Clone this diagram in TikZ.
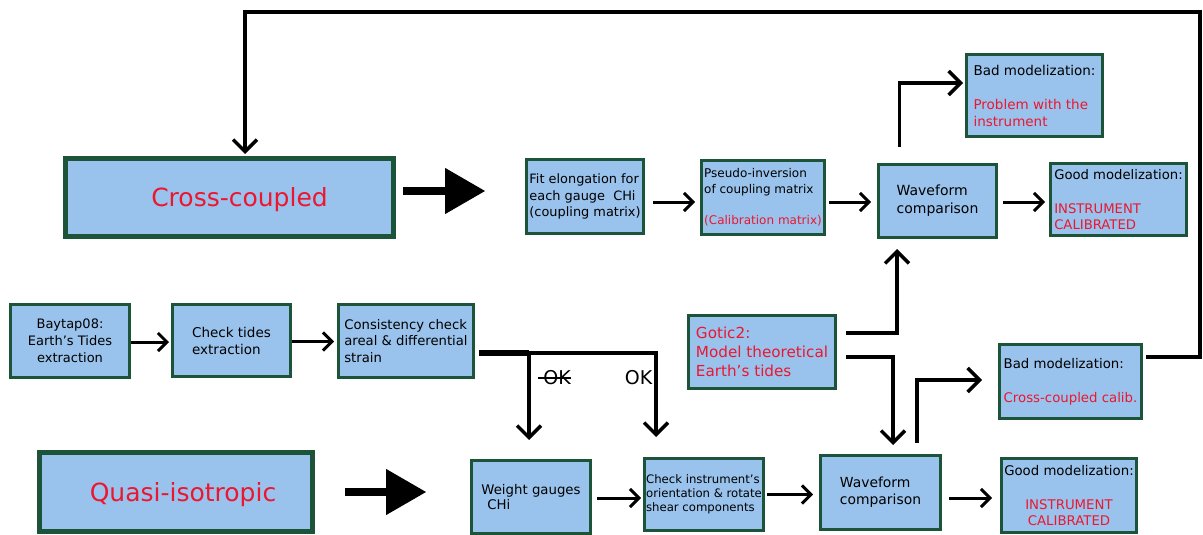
\documentclass[tikz,border=0pt]{standalone}
\usepackage{fontspec}
\setmainfont{DejaVu Sans}
\usetikzlibrary{arrows.meta}

\definecolor{boxfill}{RGB}{153,195,236}
\definecolor{boxline}{RGB}{28,84,58}
\definecolor{txtred}{RGB}{236,22,48}

\tikzset{
  box/.style={draw=boxline, fill=boxfill, line width=3pt, inner sep=0pt,
    align=left, font=\fontsize{13}{17}\selectfont},
  bigbox/.style={box, line width=5pt, text=txtred, text depth=0pt, font=\fontsize{25}{30}\selectfont},
  arr/.style={-{Straight Barb[length=9pt,width=18pt]}, line width=3pt},
  bigarr/.style={-{Straight Barb[length=12pt,width=24pt]}, line width=3.5pt},
  fatarr/.style={-{Triangle[length=40pt,width=46pt,line width=1pt]}, line width=8pt},
  oklbl/.style={inner sep=0pt, font=\fontsize{19}{22}\selectfont},
}

\begin{document}
\begin{tikzpicture}[x=1pt,y=-1pt]

    % Cadre (pixels du modele)
    \useasboundingbox (0,0) rectangle (1203,535);
    \clip (0,0) rectangle (1203,535);

    % ---- Ligne du haut : cross-coupled ----
    \node[bigbox, minimum width=328pt, minimum height=78pt] (cross) at (229.5,197.5)
      {\hspace*{20pt}Cross-coupled};
    \node[box, minimum width=117pt, minimum height=74pt, font=\fontsize{12.9}{16.5}\selectfont] (fit) at (585,196.5)
      {Fit elongation for\\each gauge\ \ CHi\\(coupling matrix)};
    \node[box, minimum width=123pt, minimum height=74pt, font=\fontsize{12}{16}\selectfont] (pinv) at (763,197.5)
      {Pseudo-inversion\\of coupling matrix\\[15pt]\textcolor{txtred}{(Calibration matrix)}};
    \node[box, minimum width=118pt, minimum height=73pt, font=\fontsize{14}{18}\selectfont] (wavetop) at (937.5,201)
      {Waveform\\comparison};
    \node[box, minimum width=136pt, minimum height=72pt, font=\fontsize{13.2}{16.5}\selectfont] (goodtop) at (1118.5,199.5)
      {Good modelization:\\[17.5pt]\textcolor{txtred}{INSTRUMENT}\\\textcolor{txtred}{CALIBRATED}};
    \node[box, minimum width=136pt, minimum height=82pt, font=\fontsize{13.5}{17}\selectfont] (badtop) at (1034.5,95.5)
      {Bad modelization:\\[17pt]\textcolor{txtred}{Problem with the}\\\textcolor{txtred}{instrument}};

    % ---- Ligne du milieu : extraction des marees ----
    \node[box, minimum width=119pt, minimum height=73pt, align=center] (baytap) at (70,341)
      {Baytap08:\\Earth's Tides\\extraction};
    \node[box, minimum width=118pt, minimum height=72pt, font=\fontsize{13.5}{17}\selectfont] (tides) at (231.5,340.5)
      {Check tides\\extraction};
    \node[box, minimum width=135pt, minimum height=73pt, font=\fontsize{13.2}{16.5}\selectfont] (consist) at (406,341)
      {Consistency check\\areal \& differential\\strain};
    \node[box, minimum width=147pt, minimum height=73pt, text=txtred, font=\fontsize{15.2}{19}\selectfont] (gotic) at (762,352)
      {Gotic2:\\Model theoretical\\Earth's tides};
    \node[box, minimum width=142pt, minimum height=74pt, font=\fontsize{13.3}{17}\selectfont] (badlow) at (1070.5,381.5)
      {Bad modelization:\\[17pt]\textcolor{txtred}{Cross-coupled calib.}};

    % ---- Ligne du bas : quasi-isotropic ----
    \node[bigbox, minimum width=273pt, minimum height=79pt] (quasi) at (176,492)
      {\hspace*{14pt}Quasi-isotropic};
    \node[box, minimum width=119pt, minimum height=73pt, font=\fontsize{13.3}{15}\selectfont] (weight) at (531,497)
      {Weight gauges\\\hspace*{6pt}CHi};
    \node[box, minimum width=119pt, minimum height=72pt, font=\fontsize{11.7}{14}\selectfont] (instr) at (704,494.5)
      {Check instrument's\\orientation \& rotate\\shear components};
    \node[box, minimum width=120pt, minimum height=74pt, font=\fontsize{13.9}{17}\selectfont] (wavelow) at (880.5,492.5)
      {Waveform\\comparison};
    \node[box, minimum width=135pt, minimum height=74pt, align=center, font=\fontsize{13.3}{16}\selectfont] (goodlow) at (1069,495.5)
      {Good modelization:\\[18pt]\textcolor{txtred}{INSTRUMENT}\\\textcolor{txtred}{CALIBRATED}};

    % ---- Fleches epaisses ----
    \draw[fatarr] ([xshift=7pt,yshift=6.5pt]cross.east) -- ([xshift=-40pt,yshift=6.5pt]cross.east -| fit.west);
    \draw[fatarr] ([xshift=30pt]quasi.east) -- ([xshift=-44pt]quasi.east -| weight.west);

    % ---- Fleches simples ----
    \draw[arr] ([xshift=8pt,yshift=-5.5pt]fit.east) -- ([xshift=-5pt,yshift=-5.5pt]fit.east -| pinv.west);
    \draw[arr] ([xshift=3pt,yshift=-4.5pt]pinv.east) -- ([xshift=-6pt,yshift=-4.5pt]pinv.east -| wavetop.west);
    \draw[arr] ([xshift=5pt,yshift=-1pt]wavetop.east) -- ([xshift=-4pt,yshift=-1pt]wavetop.east -| goodtop.west);
    \draw[arr] ([yshift=-1pt]baytap.east) -- ([xshift=-2pt,yshift=-1pt]baytap.east -| tides.west);
    \draw[arr] ([yshift=-1pt]tides.east) -- ([xshift=-3pt,yshift=-1pt]tides.east -| consist.west);
    \draw[arr] ([xshift=5pt,yshift=-1pt]weight.east) -- ([xshift=-2pt,yshift=-1pt]weight.east -| instr.west);
    \draw[arr] ([xshift=2pt]instr.east) -- ([xshift=-6pt]instr.east -| wavelow.west);
    \draw[arr] ([xshift=7pt,yshift=-5.5pt]wavelow.east) -- ([xshift=-8pt,yshift=-5.5pt]wavelow.east -| goodlow.west);

    % ---- Fleches coudees ----
    \draw[bigarr] ([xshift=-38pt,yshift=16pt]wavetop.north) |- ([xshift=-2pt,yshift=12.5pt]badtop.west);
    \draw[bigarr] ([xshift=9pt,yshift=19pt]gotic.east) -| ([xshift=-40.5pt,yshift=-10pt]wavetop.south);
    \draw[bigarr] ([xshift=9pt,yshift=-5pt]gotic.east) -| ([xshift=12.5pt,yshift=9pt]wavelow.north);
    \draw[bigarr] ([xshift=36.5pt,yshift=11pt]wavelow.north) |- ([xshift=-16pt,yshift=1.5pt]badlow.west);

    % Retour vers cross-coupled
    \coordinate (loop) at (1200,12);
    \draw[bigarr, line join=miter] ([xshift=3pt,yshift=24.5pt]badlow.east) -| (loop)
      -| ([xshift=15.5pt,yshift=2pt]cross.north);

    % ---- Test de coherence ----
    \coordinate (fork) at ([xshift=4pt,yshift=-12pt]consist.east);
    \coordinate (wtip) at ([xshift=-2pt,yshift=19pt]weight.north);
    \coordinate (itip) at ([xshift=-48pt,yshift=20pt]instr.north);
    \draw[line width=6pt] (fork) -- (fork -| wtip);
    \draw[line width=4pt, line cap=rect] (fork -| wtip) -- (fork -| itip);
    \draw[bigarr] (fork -| wtip) -- (wtip);
    \draw[bigarr] (fork -| itip) -- (itip);

    \node[oklbl] (okno) at (557,378) {OK};
    \node[oklbl] (okyes) at (638.5,378) {OK};
    \draw[line width=1.5pt] ([xshift=-5pt]okno.west) -- (okno.east);

\end{tikzpicture}
\end{document}
